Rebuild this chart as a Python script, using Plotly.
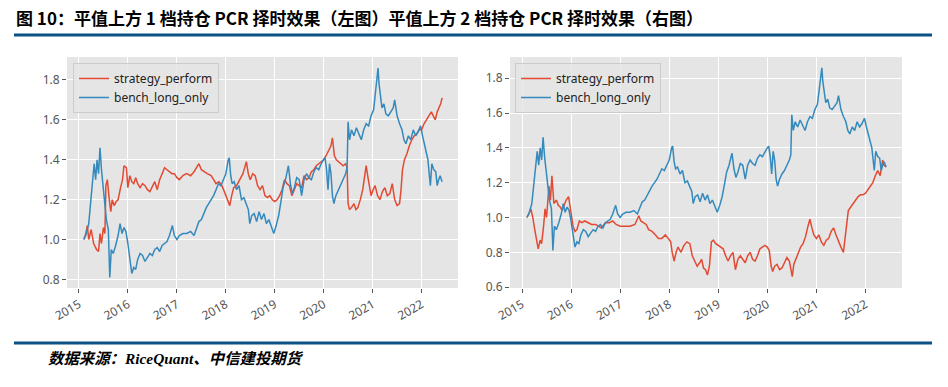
import datetime as dt
import plotly.graph_objects as go

# ---------------- data (decimal years) ----------------
bench_t = [2015.10, 2015.15, 2015.20, 2015.25, 2015.31, 2015.34, 2015.37, 2015.40, 2015.43, 2015.46,
           2015.50, 2015.53, 2015.56, 2015.60, 2015.63, 2015.66, 2015.70, 2015.75, 2015.80, 2015.84,
           2015.88, 2015.92, 2015.96, 2016.00, 2016.04, 2016.08, 2016.12, 2016.16, 2016.20, 2016.25,
           2016.30, 2016.35, 2016.40, 2016.45, 2016.50, 2016.55, 2016.60, 2016.65, 2016.70, 2016.75,
           2016.80, 2016.85, 2016.91, 2016.95, 2017.00, 2017.05, 2017.12, 2017.20, 2017.28, 2017.35,
           2017.40, 2017.45, 2017.50, 2017.55, 2017.60, 2017.65, 2017.70, 2017.75, 2017.80, 2017.85,
           2017.90, 2017.95, 2018.00, 2018.05, 2018.07, 2018.10, 2018.13, 2018.17, 2018.22, 2018.27,
           2018.32, 2018.37, 2018.42, 2018.46, 2018.49, 2018.53, 2018.58, 2018.63, 2018.68, 2018.73,
           2018.78, 2018.83, 2018.88, 2018.93, 2018.98, 2019.03, 2019.08, 2019.12, 2019.17, 2019.22,
           2019.28, 2019.32, 2019.36, 2019.40, 2019.45, 2019.50, 2019.55, 2019.60, 2019.65, 2019.70,
           2019.75, 2019.80, 2019.85, 2019.90, 2019.95, 2020.00, 2020.03, 2020.06, 2020.09, 2020.12,
           2020.15, 2020.18, 2020.21, 2020.25, 2020.30, 2020.35, 2020.40, 2020.45, 2020.48, 2020.50,
           2020.53, 2020.57, 2020.62, 2020.67, 2020.72, 2020.77, 2020.82, 2020.87, 2020.92, 2020.97,
           2021.02, 2021.06, 2021.09, 2021.11, 2021.13, 2021.16, 2021.19, 2021.23, 2021.27, 2021.32,
           2021.37, 2021.42, 2021.45, 2021.50, 2021.55, 2021.60, 2021.64, 2021.68, 2021.73, 2021.78,
           2021.83, 2021.88, 2021.93, 2021.98, 2022.02, 2022.06, 2022.10, 2022.13, 2022.16, 2022.18,
           2022.21, 2022.25, 2022.29, 2022.32, 2022.35, 2022.38, 2022.42]
bench_long_only = [1.00, 1.03, 1.08, 1.22, 1.38, 1.30, 1.40, 1.33, 1.46, 1.35,
                   1.25, 1.20, 1.10, 1.05, 0.81, 0.95, 0.93, 0.97, 1.02, 1.08,
                   1.03, 1.06, 1.04, 0.98, 0.90, 0.83, 0.86, 0.85, 0.90, 0.93,
                   0.92, 0.89, 0.91, 0.93, 0.92, 0.95, 0.96, 0.94, 0.97, 0.98,
                   0.99, 1.02, 1.07, 1.02, 1.00, 1.02, 1.03, 1.03, 1.04, 1.02,
                   1.05, 1.09, 1.10, 1.13, 1.16, 1.18, 1.20, 1.22, 1.25, 1.28,
                   1.27, 1.30, 1.33, 1.40, 1.41, 1.32, 1.28, 1.29, 1.25, 1.27,
                   1.20, 1.21, 1.17, 1.15, 1.08, 1.12, 1.13, 1.09, 1.14, 1.10,
                   1.13, 1.08, 1.10, 1.06, 1.03, 1.07, 1.12, 1.18, 1.26, 1.30,
                   1.37, 1.28, 1.23, 1.26, 1.31, 1.30, 1.22, 1.30, 1.33, 1.31,
                   1.30, 1.34, 1.36, 1.35, 1.38, 1.40, 1.41, 1.35, 1.25, 1.38,
                   1.33, 1.22, 1.18, 1.22, 1.25, 1.27, 1.30, 1.33, 1.36, 1.59,
                   1.50, 1.55, 1.52, 1.56, 1.53, 1.50, 1.55, 1.58, 1.57, 1.62,
                   1.65, 1.75, 1.80, 1.86, 1.78, 1.72, 1.66, 1.68, 1.63, 1.62,
                   1.64, 1.66, 1.70, 1.62, 1.58, 1.55, 1.50, 1.48, 1.52, 1.50,
                   1.55, 1.52, 1.54, 1.57, 1.52, 1.48, 1.44, 1.40, 1.32, 1.27,
                   1.38, 1.35, 1.34, 1.27, 1.30, 1.32, 1.29]

left_t = [2015.10, 2015.14, 2015.17, 2015.20, 2015.25, 2015.30, 2015.36, 2015.40, 2015.43, 2015.46,
          2015.50, 2015.53, 2015.55, 2015.58, 2015.62, 2015.65, 2015.68, 2015.72, 2015.76, 2015.80,
          2015.85, 2015.89, 2015.92, 2015.97, 2016.00, 2016.04, 2016.08, 2016.12, 2016.16, 2016.20,
          2016.25, 2016.30, 2016.35, 2016.40, 2016.45, 2016.50, 2016.55, 2016.60, 2016.65, 2016.70,
          2016.75, 2016.80, 2016.85, 2016.90, 2016.95, 2017.00, 2017.05, 2017.12, 2017.20, 2017.28,
          2017.35, 2017.40, 2017.45, 2017.50, 2017.55, 2017.62, 2017.70, 2017.75, 2017.80, 2017.86,
          2017.92, 2017.97, 2018.02, 2018.08, 2018.12, 2018.16, 2018.22, 2018.28, 2018.35, 2018.42,
          2018.46, 2018.50, 2018.55, 2018.60, 2018.65, 2018.70, 2018.75, 2018.80, 2018.85, 2018.90,
          2018.95, 2019.00, 2019.05, 2019.10, 2019.15, 2019.20, 2019.25, 2019.30, 2019.35, 2019.40,
          2019.45, 2019.50, 2019.55, 2019.60, 2019.65, 2019.70, 2019.75, 2019.80, 2019.85, 2019.90,
          2019.95, 2020.00, 2020.05, 2020.10, 2020.15, 2020.18, 2020.22, 2020.26, 2020.30, 2020.35,
          2020.40, 2020.45, 2020.48, 2020.50, 2020.53, 2020.57, 2020.62, 2020.66, 2020.70, 2020.75,
          2020.80, 2020.84, 2020.87, 2020.90, 2020.93, 2020.97, 2021.01, 2021.05, 2021.10, 2021.15,
          2021.20, 2021.25, 2021.30, 2021.35, 2021.40, 2021.45, 2021.50, 2021.55, 2021.58, 2021.61,
          2021.65, 2021.70, 2021.75, 2021.80, 2021.85, 2021.90, 2021.95, 2022.00, 2022.05, 2022.10,
          2022.15, 2022.20, 2022.24, 2022.28, 2022.32, 2022.36, 2022.39, 2022.42]
left_strategy_perform = [1.00, 1.03, 1.07, 1.00, 1.05, 0.98, 0.95, 0.94, 1.03, 0.98,
                         1.06, 1.03, 1.27, 1.30, 1.20, 1.14, 1.20, 1.17, 1.19, 1.20,
                         1.26, 1.30, 1.37, 1.36, 1.26, 1.32, 1.29, 1.28, 1.31, 1.28,
                         1.26, 1.28, 1.27, 1.25, 1.24, 1.27, 1.29, 1.25, 1.30, 1.33,
                         1.36, 1.35, 1.34, 1.33, 1.33, 1.31, 1.30, 1.32, 1.33, 1.32,
                         1.34, 1.36, 1.38, 1.35, 1.34, 1.33, 1.32, 1.30, 1.28, 1.29,
                         1.27, 1.24, 1.21, 1.17, 1.22, 1.26, 1.27, 1.30, 1.33, 1.39,
                         1.33, 1.30, 1.33, 1.32, 1.27, 1.25, 1.27, 1.22, 1.21, 1.22,
                         1.20, 1.19, 1.20, 1.22, 1.25, 1.30, 1.28, 1.27, 1.22, 1.25,
                         1.28, 1.27, 1.26, 1.32, 1.30, 1.31, 1.34, 1.35, 1.37, 1.38,
                         1.39, 1.40, 1.42, 1.45, 1.47, 1.51, 1.42, 1.40, 1.39, 1.38,
                         1.37, 1.38, 1.36, 1.18, 1.15, 1.16, 1.18, 1.15, 1.16, 1.20,
                         1.25, 1.32, 1.37, 1.32, 1.28, 1.22, 1.25, 1.27, 1.22, 1.20,
                         1.24, 1.26, 1.22, 1.23, 1.28, 1.20, 1.17, 1.18, 1.25, 1.35,
                         1.40, 1.43, 1.47, 1.50, 1.52, 1.53, 1.55, 1.55, 1.58, 1.60,
                         1.62, 1.64, 1.62, 1.60, 1.64, 1.66, 1.68, 1.71]

right_t = [2015.10, 2015.14, 2015.18, 2015.22, 2015.26, 2015.30, 2015.33, 2015.37, 2015.40, 2015.44,
           2015.47, 2015.50, 2015.55, 2015.58, 2015.61, 2015.65, 2015.70, 2015.74, 2015.78, 2015.82,
           2015.86, 2015.90, 2015.95, 2016.00, 2016.04, 2016.08, 2016.12, 2016.17, 2016.22, 2016.28,
           2016.35, 2016.42, 2016.50, 2016.56, 2016.62, 2016.70, 2016.78, 2016.85, 2016.92, 2017.00,
           2017.10, 2017.20, 2017.30, 2017.38, 2017.42, 2017.47, 2017.53, 2017.58, 2017.65, 2017.72,
           2017.78, 2017.85, 2017.92, 2017.98, 2018.03, 2018.06, 2018.10, 2018.14, 2018.18, 2018.24,
           2018.30, 2018.36, 2018.42, 2018.47, 2018.52, 2018.57, 2018.62, 2018.66, 2018.70, 2018.74,
           2018.78, 2018.82, 2018.86, 2018.90, 2018.95, 2019.00, 2019.05, 2019.10, 2019.15, 2019.20,
           2019.25, 2019.30, 2019.35, 2019.40, 2019.45, 2019.50, 2019.55, 2019.60, 2019.65, 2019.70,
           2019.75, 2019.80, 2019.85, 2019.90, 2019.95, 2020.00, 2020.04, 2020.08, 2020.11, 2020.15,
           2020.20, 2020.25, 2020.30, 2020.35, 2020.40, 2020.45, 2020.49, 2020.51, 2020.54, 2020.58,
           2020.63, 2020.68, 2020.73, 2020.78, 2020.83, 2020.87, 2020.91, 2020.95, 2021.00, 2021.05,
           2021.10, 2021.15, 2021.20, 2021.25, 2021.30, 2021.35, 2021.40, 2021.45, 2021.50, 2021.55,
           2021.58, 2021.61, 2021.65, 2021.70, 2021.75, 2021.80, 2021.85, 2021.90, 2021.95, 2022.00,
           2022.05, 2022.10, 2022.15, 2022.20, 2022.25, 2022.30, 2022.35, 2022.38, 2022.42]
right_strategy_perform = [1.00, 1.02, 1.05, 1.00, 0.93, 0.87, 0.82, 0.87, 0.85, 0.95,
                          1.05, 1.00, 1.18, 1.10, 1.24, 1.08, 1.10, 1.07, 1.06, 1.04,
                          1.07, 1.10, 1.12, 1.02, 0.95, 0.92, 0.93, 0.98, 0.97, 0.98,
                          0.97, 0.96, 0.96, 0.95, 0.94, 0.97, 0.97, 0.98, 0.96, 0.95,
                          0.95, 0.95, 0.96, 1.01, 0.98, 0.97, 0.96, 0.93, 0.92, 0.90,
                          0.88, 0.88, 0.90, 0.88, 0.86, 0.80, 0.75, 0.80, 0.83, 0.80,
                          0.84, 0.86, 0.85, 0.78, 0.75, 0.72, 0.74, 0.76, 0.71, 0.70,
                          0.67, 0.72, 0.86, 0.87, 0.85, 0.84, 0.83, 0.82, 0.78, 0.75,
                          0.78, 0.80, 0.70, 0.76, 0.78, 0.76, 0.74, 0.78, 0.80, 0.76,
                          0.75, 0.78, 0.82, 0.83, 0.84, 0.83, 0.81, 0.72, 0.69, 0.72,
                          0.73, 0.70, 0.71, 0.74, 0.77, 0.75, 0.70, 0.66, 0.73, 0.76,
                          0.80, 0.83, 0.85, 0.89, 0.95, 0.99, 0.94, 0.90, 0.88, 0.90,
                          0.86, 0.84, 0.87, 0.88, 0.92, 0.94, 0.90, 0.86, 0.83, 0.80,
                          0.88, 0.96, 1.04, 1.06, 1.08, 1.10, 1.12, 1.13, 1.13, 1.14,
                          1.16, 1.18, 1.20, 1.24, 1.27, 1.24, 1.33, 1.30, 1.29]

series_names = ["strategy_perform", "bench_long_only"]
title_text = "图 10：平值上方 1 档持仓 PCR 择时效果（左图）平值上方 2 档持仓 PCR 择时效果（右图）"
source_text = "数据来源：RiceQuant、中信建投期货"


def to_date(y):
    year = int(y)
    start = dt.datetime(year, 1, 1)
    return start + dt.timedelta(days=(y - year) * 365.0)


RED = "#E24A33"
BLUE = "#348ABD"
W, H = 948, 387

fig = go.Figure()
fig.add_trace(go.Scatter(x=[to_date(v) for v in left_t], y=left_strategy_perform, mode="lines",
                         name=series_names[0], line=dict(color=RED, width=1.5),
                         xaxis="x", yaxis="y", legend="legend"))
fig.add_trace(go.Scatter(x=[to_date(v) for v in bench_t], y=bench_long_only, mode="lines",
                         name=series_names[1], line=dict(color=BLUE, width=1.5),
                         xaxis="x", yaxis="y", legend="legend"))
fig.add_trace(go.Scatter(x=[to_date(v) for v in right_t], y=right_strategy_perform, mode="lines",
                         name=series_names[0], line=dict(color=RED, width=1.5),
                         xaxis="x2", yaxis="y2", legend="legend2"))
fig.add_trace(go.Scatter(x=[to_date(v) for v in bench_t], y=bench_long_only, mode="lines",
                         name=series_names[1], line=dict(color=BLUE, width=1.5),
                         xaxis="x2", yaxis="y2", legend="legend2"))

tickfont = dict(family="Noto Sans, DejaVu Sans, sans-serif", size=12, color="#555555")
xcommon = dict(type="date", dtick="M12", tick0="2015-01-01", tickformat="%Y", tickangle=-30,
               showgrid=True, gridcolor="white", gridwidth=1, zeroline=False, showline=False,
               ticks="outside", ticklen=4, tickcolor="#555555", tickfont=tickfont,
               automargin=False, range=[to_date(2014.755), to_date(2022.745)])
ycommon = dict(showgrid=True, gridcolor="white", gridwidth=1, zeroline=False, showline=False,
               ticks="outside", ticklen=4, tickcolor="#555555", tickfont=tickfont,
               automargin=False, dtick=0.2, tickformat=".1f")

y0 = (H - 288) / H
y1 = (H - 57) / H
legend_font = dict(family="Noto Sans, DejaVu Sans, sans-serif", size=12, color="#222222")
fig.update_layout(
    width=W, height=H,
    margin=dict(l=0, r=0, t=0, b=0, autoexpand=False),
    paper_bgcolor="white",
    plot_bgcolor="#E5E5E5",
    xaxis=dict(domain=[67 / W, 458 / W], anchor="y", **xcommon),
    yaxis=dict(domain=[y0, y1], anchor="x", range=[0.757, 1.915], **ycommon),
    xaxis2=dict(domain=[510 / W, 902 / W], anchor="y2", **xcommon),
    yaxis2=dict(domain=[y0, y1], anchor="x2", range=[0.595, 1.922], **ycommon),
    legend=dict(x=73 / W, y=(H - 63) / H, xanchor="left", yanchor="top",
                bgcolor="rgba(229,229,229,0.8)", bordercolor="#CCCCCC", borderwidth=1,
                font=legend_font, itemwidth=30, tracegroupgap=0),
    legend2=dict(x=515 / W, y=(H - 63) / H, xanchor="left", yanchor="top",
                 bgcolor="rgba(229,229,229,0.8)", bordercolor="#CCCCCC", borderwidth=1,
                 font=legend_font, itemwidth=30, tracegroupgap=0),
    showlegend=True,
)

LINE_C = "#0B5183"
fig.add_shape(type="line", xref="paper", yref="paper", x0=14 / W, x1=932 / W,
              y0=(H - 35) / H, y1=(H - 35) / H, line=dict(color=LINE_C, width=3))
fig.add_shape(type="line", xref="paper", yref="paper", x0=14 / W, x1=932 / W,
              y0=(H - 343) / H, y1=(H - 343) / H, line=dict(color=LINE_C, width=3))

fig.add_annotation(text="<b>" + title_text + "</b>", xref="paper", yref="paper",
                   x=14 / W, y=(H - 18) / H, xanchor="left", yanchor="middle", showarrow=False,
                   font=dict(family="Noto Sans CJK SC, sans-serif", size=17, color="black"))
fig.add_annotation(text="<b><i>" + source_text + "</i></b>", xref="paper", yref="paper",
                   x=46 / W, y=(H - 358) / H, xanchor="left", yanchor="middle", showarrow=False,
                   font=dict(family="Liberation Serif, Noto Sans CJK SC, serif", size=15.4, color="black"))

fig.write_html("out.html", config={"displayModeBar": False},
               post_script="document.body.style.margin='0';document.body.style.overflow='hidden';")
